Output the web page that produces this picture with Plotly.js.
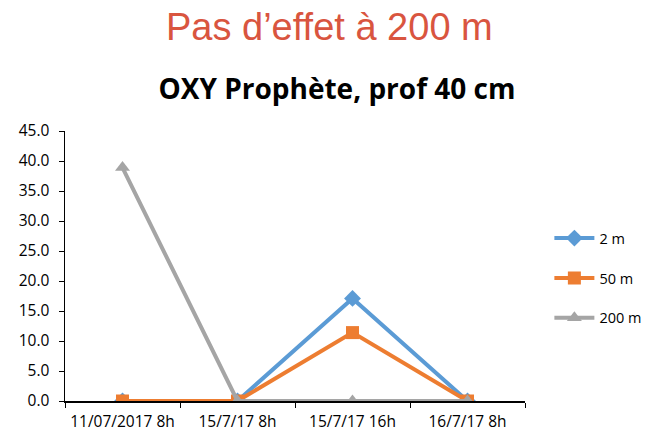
<!DOCTYPE html>
<html>
<head>
<meta charset="utf-8">
<script src="https://cdn.plot.ly/plotly-3.0.1.min.js"></script>
<style>html,body{margin:0;padding:0;background:#fff;}#chart{width:648px;height:437px;}</style>
</head>
<body>
<div id="chart"></div>
<script>
const categories = ["11/07/2017 8h", "15/7/17 8h", "15/7/17 16h", "16/7/17 8h"];
const series2m = [0, 0, 17.1, 0];
const series50m = [0, 0, 11.4, 0];
const series200m = [38.9, 0, 0, 0];
const seriesNames = ["2 m", "50 m", "200 m"];
const yTicks = [0, 5, 10, 15, 20, 25, 30, 35, 40, 45];

const font = "Open Sans, Noto Sans, sans-serif";
const traces = [
  {x: categories, y: series2m, name: seriesNames[0], type: "scatter", mode: "lines+markers", legendgroup: "a",
   line: {color: "#5B9BD5", width: 4}, marker: {symbol: "diamond", size: 13, color: "#5B9BD5"}},
  {x: categories, y: series50m, name: seriesNames[1], type: "scatter", mode: "lines+markers", legendgroup: "b",
   line: {color: "#ED7D31", width: 4}, marker: {symbol: "square", size: 13, color: "#ED7D31"}},
  {x: categories, y: series200m, name: seriesNames[2], type: "scatter", mode: "lines+markers", legendgroup: "c",
   line: {color: "#A5A5A5", width: 4}, marker: {symbol: "triangle-up", size: 13, color: "#A5A5A5"}}
];
const layout = {
  width: 648, height: 437,
  margin: {l: 65, r: 123, t: 131, b: 36, autoexpand: false},
  paper_bgcolor: "#fff", plot_bgcolor: "#fff",
  showlegend: true,
  title: {text: "<b>OXY Prophète, prof 40 cm</b>", font: {family: font, size: 28, color: "#000"},
          x: 0.52, xanchor: "center", y: 0.795, yanchor: "middle"},
  annotations: [{text: "Pas d’effet à 200 m", xref: "paper", yref: "paper", x: 0.576, y: 1.387,
    xanchor: "center", yanchor: "middle", showarrow: false,
    font: {family: "Liberation Sans, Arial, sans-serif", size: 38, color: "#D9553F"}}],
  xaxis: {type: "category", showline: true, linecolor: "#000", linewidth: 1.5, showgrid: false,
    ticks: "outside", tickson: "boundaries", ticklen: 5, tickcolor: "#000", zeroline: false,
    tickangle: 0, automargin: false, ticklabelstandoff: 6,
    tickfont: {family: font, size: 15.5, color: "#000"}, range: [-0.5, 3.5], fixedrange: true},
  yaxis: {range: [0, 45], tickvals: yTicks, ticktext: yTicks.map(v => v.toFixed(1)),
    showline: true, linecolor: "#000", linewidth: 1.5, showgrid: false, zeroline: false,
    ticks: "outside", ticklen: 5, tickcolor: "#000", automargin: false, ticklabelstandoff: 6,
    tickfont: {family: font, size: 15.5, color: "#000"}},
  legend: {x: 1.053, xanchor: "left", y: 0.455, yanchor: "middle", font: {family: font, size: 14.5, color: "#000"},
    traceorder: "grouped", itemwidth: 40, tracegroupgap: 18, bgcolor: "rgba(0,0,0,0)"}
};
Plotly.newPlot("chart", traces, layout, {displayModeBar: false, staticPlot: true});
</script>
</body>
</html>
